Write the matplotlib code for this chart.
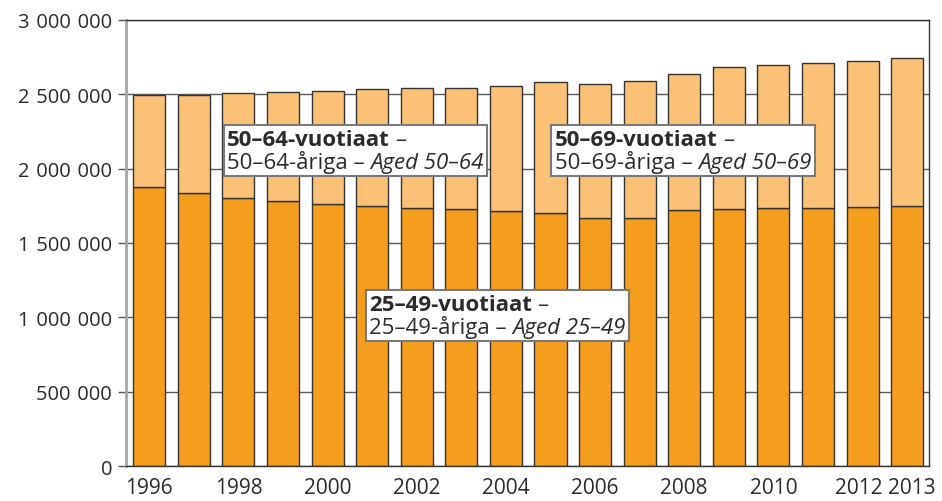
import matplotlib.pyplot as plt
from matplotlib.offsetbox import TextArea, HPacker, VPacker, AnnotationBbox
from matplotlib.ticker import FuncFormatter
from matplotlib.transforms import ScaledTranslation

plt.rcParams['font.family'] = ['Open Sans', 'DejaVu Sans']

years = list(range(1996, 2014))
aged_25_49 = [1874000, 1836000, 1805000, 1783000, 1760000, 1749000, 1738000, 1726000, 1715000,
              1702000, 1670000, 1670000, 1722000, 1729000, 1733000, 1735000, 1740000, 1749000]
aged_50_plus = [621000, 657000, 702000, 731000, 762000, 785000, 805000, 819000, 839000,
                879000, 902000, 922000, 913000, 957000, 964000, 976000, 986000, 998000]
tick_years = [1996, 1998, 2000, 2002, 2004, 2006, 2008, 2010, 2012, 2013]

dark = '#333333'
text_col = '#2b2b2b'

fig = plt.figure(figsize=(9.42, 5.02), dpi=100)
ax = fig.add_axes([0.1338, 0.0697, 0.8524, 0.8885])

x = list(range(len(years)))
ax.bar(x, aged_25_49, width=0.72, color='#F59E1E', edgecolor=dark, linewidth=1, zorder=2)
ax.bar(x, aged_50_plus, width=0.72, bottom=aged_25_49, color='#FBC277', edgecolor=dark,
       linewidth=1, zorder=2)

ax.set_xlim(-0.52, 17.49)
ax.set_ylim(0, 3000000)
ax.set_yticks(range(0, 3000001, 500000))
ax.yaxis.set_major_formatter(FuncFormatter(lambda v, p: f"{int(v):,}".replace(",", "\u2009\u2009")))
ax.set_xticks([years.index(y) for y in tick_years])
ax.set_xticklabels([str(y) for y in tick_years])
ax.tick_params(axis='x', length=0, pad=8, labelsize=15, labelcolor=text_col)
ax.tick_params(axis='y', length=6, width=1, color='#555555', labelsize=14.5, labelcolor=text_col, pad=4)
ax.grid(axis='y', color='#5a5a5a', linewidth=1, zorder=0)
ax.set_axisbelow(True)

# nudge the two last year labels apart
labels = ax.get_xticklabels()
labels[-2].set_transform(labels[-2].get_transform() + ScaledTranslation(-4 / 100, 0, fig.dpi_scale_trans))
labels[-1].set_transform(labels[-1].get_transform() + ScaledTranslation(5 / 100, 0, fig.dpi_scale_trans))

ax.spines['left'].set_color('#a6a6a6')
ax.spines['left'].set_linewidth(2)
for s in ['right', 'top', 'bottom']:
    ax.spines[s].set_color(dark)
    ax.spines[s].set_linewidth(1)


def label_box(xpos, ypos, age):
    props = dict(fontsize=16, color=text_col)
    row1 = HPacker(children=[TextArea(f"{age}-vuotiaat", textprops=dict(fontweight='bold', **props)),
                             TextArea("–", textprops=props)], pad=0, sep=4)
    row2 = HPacker(children=[TextArea(f"{age}-åriga –", textprops=props),
                             TextArea(f"Aged {age}", textprops=dict(style='italic', **props))],
                   pad=0, sep=4)
    box = VPacker(children=[row1, row2], align='left', pad=0, sep=0)
    ab = AnnotationBbox(box, (xpos, ypos), xycoords='data', box_alignment=(0, 1), frameon=True,
                        pad=0.25, zorder=5,
                        bboxprops=dict(edgecolor='#7a7a7a', linewidth=1.5, facecolor='white',
                                       boxstyle='square,pad=0.25'))
    ax.add_artist(ab)


label_box(1.75, 2268000, "50–64")
label_box(9.10, 2268000, "50–69")
label_box(4.93, 1158000, "25–49")

fig.savefig('out.png', dpi=100)
